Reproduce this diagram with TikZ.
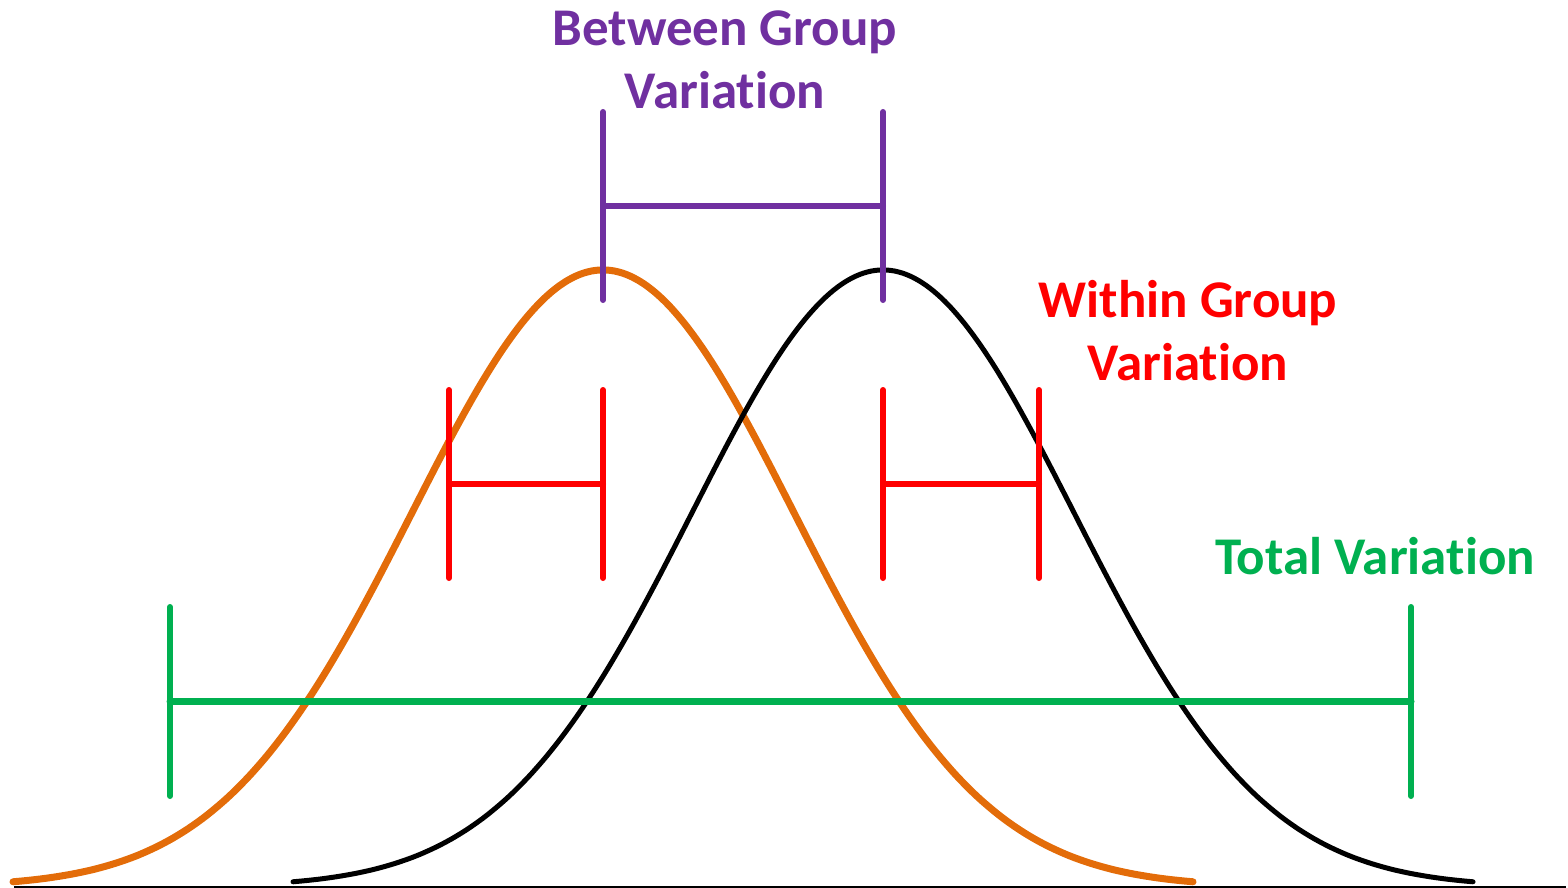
\documentclass[tikz,border=0pt]{standalone}
\usepackage{fontspec}
\setmainfont{Carlito}[Ligatures=NoCommon]
\usetikzlibrary{calc}

\definecolor{grpOrange}{HTML}{E36C09}
\definecolor{grpPurple}{HTML}{7030A0}
\definecolor{grpRed}{HTML}{FF0000}
\definecolor{grpGreen}{HTML}{00B050}

\begin{document}
\begin{tikzpicture}[x=1pt, y=-1pt, line cap=round,
    lbl/.style={align=center, inner sep=0pt, font=\fontsize{53}{63}\selectfont\bfseries},
    bar/.style={line width=6pt}]
        \useasboundingbox (0,0) rectangle (1568,888);

        % parameters
        \def\base{887}    % baseline
        \def\amp{617}     % peak height
        \def\sig{191}     % spread
        \def\mone{603}    % first mean
        \def\mtwo{883}    % second mean
        \def\wid{590}     % half width of a curve

        % baseline
        \draw[line width=1.5pt, line cap=butt] (14,\base) -- (1566,\base);

        % the two groups
        \draw[grpOrange, line width=7pt] plot[domain=-\wid:\wid, samples=150, smooth]
        ({\mone+\x}, {\base-\amp*exp(-0.5*(\x/\sig)^2)});
        \draw[black, line width=5pt] plot[domain=-\wid:\wid, samples=150, smooth]
        ({\mtwo+\x}, {\base-\amp*exp(-0.5*(\x/\sig)^2)});

        % between group
        \coordinate (B1t) at (\mone,112);
        \coordinate (B1b) at (\mone,300);
        \coordinate (B2t) at (\mtwo,112);
        \coordinate (B2b) at (\mtwo,300);
        \draw[bar, grpPurple] (B1t) -- (B1b);
        \draw[bar, grpPurple] (B2t) -- (B2b);
        \draw[bar, grpPurple] ($(B1t)!0.5!(B1b)$) -- ($(B2t)!0.5!(B2b)$);
        \node[lbl, text=grpPurple] (between) at (725,60) {Between Group\\Variation};

        % within group
        \foreach \n/\xx in {W1/449, W2/603, W3/883, W4/1039} {
            \coordinate (\n t) at (\xx,390);
            \coordinate (\n b) at (\xx,578);
            \draw[bar, grpRed] (\n t) -- (\n b);
        }
        \draw[bar, grpRed] ($(W1t)!0.5!(W1b)$) -- ($(W2t)!0.5!(W2b)$);
        \draw[bar, grpRed] ($(W3t)!0.5!(W3b)$) -- ($(W4t)!0.5!(W4b)$);
        \node[lbl, text=grpRed] (within) at (1188,331) {Within Group\\Variation};

        % total
        \coordinate (T1t) at (170,607);
        \coordinate (T1b) at (170,796);
        \coordinate (T2t) at (1411,607);
        \coordinate (T2b) at (1411,796);
        \draw[bar, grpGreen] (T1t) -- (T1b);
        \draw[bar, grpGreen] (T2t) -- (T2b);
        \draw[bar, grpGreen, line width=7pt] ($(T1t)!0.5!(T1b)$) -- ($(T2t)!0.5!(T2b)$);
        \node[lbl, text=grpGreen] (total) at (1375,556) {Total Variation};

    \end{tikzpicture}
\end{document}
